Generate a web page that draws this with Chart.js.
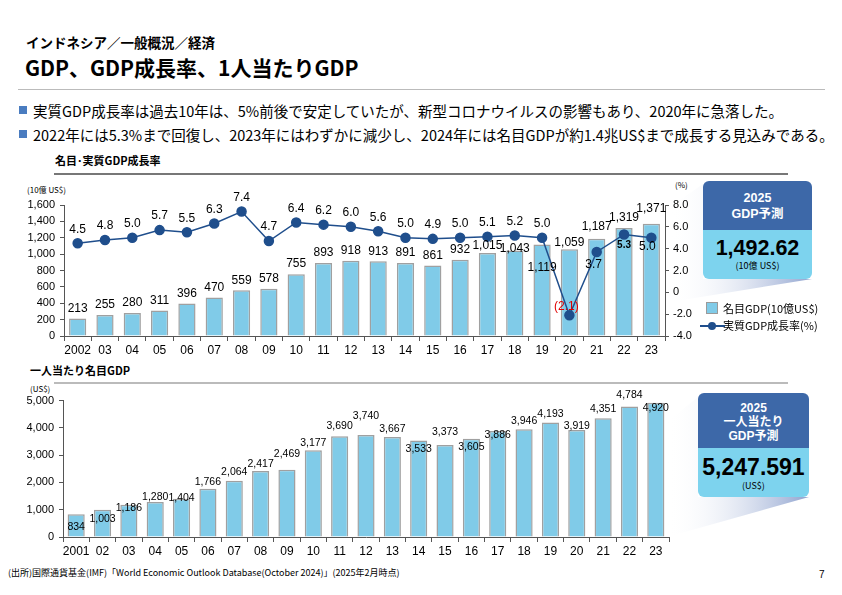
<!DOCTYPE html>
<html>
<head>
<meta charset="utf-8">
<script src="https://cdn.jsdelivr.net/npm/chart.js@4/dist/chart.umd.min.js"></script>
<style>
  body { margin: 0; background: #fff; }
  #page { position: relative; width: 842px; height: 595px; overflow: hidden; font-family: "Noto Sans CJK JP", "Liberation Sans", sans-serif; color: #000; }
  .abs { position: absolute; white-space: nowrap; }
  canvas { position: absolute; }
  .box { position: absolute; border-radius: 6px; overflow: hidden; text-align: center; }
  .box .hd { background: #3D68A8; color: #fff; font-weight: bold; font-family: "Liberation Sans", "Noto Sans CJK JP", sans-serif; }
  .box .bd { background: #7DD3EE; }
  .big { font-family: "Liberation Sans", Arial, sans-serif; font-weight: bold; }
</style>
</head>
<body>
<div id="page">
  <div class="abs" style="left:26px;top:32px;font-size:13.5px;font-weight:bold;">インドネシア／一般概況／経済</div>
  <div class="abs" style="left:25px;top:52px;font-size:21px;font-weight:bold;">GDP、GDP成長率、1人当たりGDP</div>
  <div class="abs" style="left:18px;top:89px;width:807px;height:1px;background:#bbb;"></div>

  <div class="abs" style="left:19px;top:106px;width:8px;height:8px;background:#4A7CC0;"></div>
  <div class="abs" style="left:33px;top:100px;font-size:14.5px;">実質GDP成長率は過去10年は、5%前後で安定していたが、新型コロナウイルスの影響もあり、2020年に急落した。</div>
  <div class="abs" style="left:19px;top:130px;width:8px;height:8px;background:#4A7CC0;"></div>
  <div class="abs" style="left:33px;top:124px;font-size:14.5px;">2022年には5.3%まで回復し、2023年にはわずかに減少し、2024年には名目GDPが約1.4兆US$まで成長する見込みである。</div>

  <div class="abs" style="left:55px;top:152px;font-size:11px;font-weight:bold;">名目･実質GDP成長率</div>
  <div class="abs" style="left:54px;top:173px;width:734px;height:2px;background:#777;"></div>
  <div class="abs" style="left:27px;top:184px;font-size:8px;">(10億 US$)</div>
  <div class="abs" style="left:675px;top:179px;font-size:8px;">(%)</div>

  <svg class="abs" style="left:0;top:0;" width="842" height="595">
    <defs>
      <linearGradient id="g1" x1="0" y1="0" x2="1" y2="0">
        <stop offset="0" stop-color="#ffffff" stop-opacity="0"/>
        <stop offset="1" stop-color="#8fa3cf"/>
      </linearGradient>
    </defs>
    <polygon points="670,207 703,184 703,279 812,279 670,302" fill="url(#g1)"/>
    <polygon points="667,422 698,397 698,497 809,497 667,537" fill="url(#g1)"/>
  </svg>

  <canvas id="c1" width="712" height="180" style="left:0;top:180px;"></canvas>

  <div class="box" style="left:703px;top:181px;width:109px;height:98px;">
    <div class="hd" style="height:49px;font-size:12.5px;line-height:16px;padding-top:9px;box-sizing:border-box;">2025<br>GDP予測</div>
    <div class="bd" style="height:49px;">
      <div class="big" style="font-size:21.5px;padding-top:6px;line-height:24px;">1,492.62</div>
      <div style="font-size:9px;line-height:12px;">(10億 US$)</div>
    </div>
  </div>

  <div class="abs" style="left:706px;top:302px;width:12px;height:12px;background:#80CBE8;border:1px solid #9a9a9a;box-sizing:border-box;"></div>
  <div class="abs" style="left:723px;top:300px;font-size:11px;">名目GDP(10億US$)</div>
  <div class="abs" style="left:700px;top:325px;width:25px;height:2px;background:#1F4E8C;"></div>
  <div class="abs" style="left:708px;top:322px;width:8px;height:8px;border-radius:50%;background:#1F4E8C;"></div>
  <div class="abs" style="left:723px;top:317px;font-size:11px;">実質GDP成長率(%)</div>

  <div class="abs" style="left:30px;top:362px;font-size:11px;font-weight:bold;">一人当たり名目GDP</div>
  <div class="abs" style="left:54px;top:382px;width:734px;height:2px;background:#bbb;"></div>
  <div class="abs" style="left:30px;top:383px;font-size:8px;">(US$)</div>

  <canvas id="c2" width="680" height="172" style="left:0;top:389px;"></canvas>

  <div class="box" style="left:698px;top:393px;width:111px;height:104px;">
    <div class="hd" style="height:55px;font-size:12px;line-height:14px;padding-top:8px;box-sizing:border-box;">2025<br>一人当たり<br>GDP予測</div>
    <div class="bd" style="height:49px;">
      <div class="big" style="font-size:23px;padding-top:7px;line-height:25px;">5,247.591</div>
      <div style="font-size:9px;line-height:12px;">(US$)</div>
    </div>
  </div>

  <div class="abs" style="left:8px;top:566px;font-size:9px;">(出所)国際通貨基金(IMF)「World Economic Outlook Database(October 2024)」(2025年2月時点)</div>
  <div class="abs" style="left:819px;top:569px;font-size:10px;font-family:'Liberation Sans',sans-serif;">7</div>
</div>

<script>
// 名目GDP・実質GDP成長率
const years1 = ['2002','03','04','05','06','07','08','09','10','11','12','13','14','15','16','17','18','19','20','21','22','23'];
const nominalGdp = [213, 255, 280, 311, 396, 470, 559, 578, 755, 893, 918, 913, 891, 861, 932, 1015, 1043, 1119, 1059, 1187, 1319, 1371];
const realGrowth = [4.5, 4.8, 5.0, 5.7, 5.5, 6.3, 7.4, 4.7, 6.4, 6.2, 6.0, 5.6, 5.0, 4.9, 5.0, 5.1, 5.2, 5.0, -2.1, 3.7, 5.3, 5.0];

// 一人当たり名目GDP
const years2 = ['2001','02','03','04','05','06','07','08','09','10','11','12','13','14','15','16','17','18','19','20','21','22','23'];
const perCapita = [834, 1003, 1186, 1280, 1404, 1766, 2064, 2417, 2469, 3177, 3690, 3740, 3667, 3533, 3373, 3605, 3886, 3946, 4193, 3919, 4351, 4784, 4920];

// label placement tweaks (pixels relative to the mark)
const gdpLabelDy = [-10,-10,-10,-10,-10,-10,-10,-10,-10,-10,-10,-10,-10,-10,-10,-7,-2,23,-7,-12,-10,-15];
const growthLabelDy = [-14,-14,-14,-14,-14,-14,-14,-14,-14,-14,-14,-14,-14,-14,-14,-14,-14,-14,-9,13,11,9];
const growthLabelDx = [0,0,0,0,0,0,0,0,0,0,0,0,0,0,0,0,0,0,-3,-3,0,-4];
const perCapitaDy = [13,9,3,-5,-1,-7,-9,-7,-16,-7,-10,-19,-8,8,-13,8,4,-8,-9,-4,-9,-11,5];

const BAR_FILL = '#80CBE8';
const BAR_EDGE = '#a0a0a0';
const LINE_COL = '#1F4E8C';
const NUM_FONT = '"Liberation Sans", Arial, sans-serif';

const labelPlugin = {
  id: 'valueLabels',
  afterDatasetsDraw(chart) {
    const ctx = chart.ctx;
    ctx.save();
    ctx.textAlign = 'center';
    ctx.textBaseline = 'middle';
    chart.data.datasets.forEach((ds, di) => {
      const meta = chart.getDatasetMeta(di);
      const opt = ds.valueLabel;
      if (!opt) return;
      meta.data.forEach((el, i) => {
        const v = ds.data[i];
        let txt, color = '#000', font = opt.font;
        if (v < 0) { txt = '(' + Math.abs(v).toFixed(1) + ')'; color = '#e00000'; }
        else txt = opt.fmt(v);
        if (opt.bold && opt.bold[i]) font = 'bold 10px ' + NUM_FONT;
        ctx.font = font;
        ctx.fillStyle = color;
        const dx = opt.dx ? opt.dx[i] : 0;
        ctx.fillText(txt, el.x + dx, el.y + opt.dy[i]);
      });
    });
    ctx.restore();
  }
};

const axisGrid = { display: true, drawOnChartArea: false, drawTicks: true, tickLength: 4, color: '#555' };

new Chart(document.getElementById('c1'), {
  type: 'bar',
  data: {
    labels: years1,
    datasets: [
      {
        type: 'line',
        data: realGrowth,
        yAxisID: 'y1',
        order: 0,
        borderColor: LINE_COL,
        borderWidth: 1.5,
        pointRadius: 4.5,
        pointBackgroundColor: LINE_COL,
        pointBorderColor: LINE_COL,
        valueLabel: {
          font: '12px ' + NUM_FONT,
          fmt: v => v.toFixed(1),
          dy: growthLabelDy,
          dx: growthLabelDx,
          bold: realGrowth.map((v, i) => i === 20)
        }
      },
      {
        type: 'bar',
        data: nominalGdp,
        yAxisID: 'y',
        order: 1,
        backgroundColor: BAR_FILL,
        borderColor: BAR_EDGE,
        borderWidth: 1.5,
        barPercentage: 0.63,
        categoryPercentage: 1,
        valueLabel: {
          font: '12px ' + NUM_FONT,
          fmt: v => v.toLocaleString('en-US'),
          dy: gdpLabelDy
        }
      }
    ]
  },
  options: {
    responsive: false,
    animation: false,
    layout: { padding: { top: 25, left: 0, right: 0, bottom: 0 } },
    plugins: { legend: { display: false }, tooltip: { enabled: false } },
    scales: {
      x: {
        grid: { ...axisGrid, tickLength: 5 },
        border: { color: '#555' },
        ticks: { color: '#000', font: { size: 12, family: NUM_FONT }, maxRotation: 0, autoSkip: false, padding: 2 },
        afterFit: s => { s.height = 24; }
      },
      y: {
        position: 'left',
        min: 0, max: 1600,
        grid: axisGrid,
        border: { color: '#555' },
        ticks: { stepSize: 200, autoSkip: false, color: '#000', font: { size: 11, family: NUM_FONT }, padding: 5, callback: v => v.toLocaleString('en-US') },
        afterFit: s => { s.width = 64; }
      },
      y1: {
        position: 'right',
        min: -4, max: 8,
        grid: axisGrid,
        border: { color: '#555' },
        ticks: { stepSize: 2, autoSkip: false, color: '#000', font: { size: 11, family: NUM_FONT }, padding: 4, callback: v => v === 0 ? '0' : v.toFixed(1) },
        afterFit: s => { s.width = 47; }
      }
    }
  },
  plugins: [labelPlugin]
});

new Chart(document.getElementById('c2'), {
  type: 'bar',
  data: {
    labels: years2,
    datasets: [{
      data: perCapita,
      backgroundColor: BAR_FILL,
      borderColor: BAR_EDGE,
      borderWidth: 1.5,
      barPercentage: 0.65,
      categoryPercentage: 1,
      valueLabel: {
        font: '10.5px ' + NUM_FONT,
        fmt: v => v.toLocaleString('en-US'),
        dy: perCapitaDy
      }
    }]
  },
  options: {
    responsive: false,
    animation: false,
    layout: { padding: { top: 10, left: 0, right: 11, bottom: 0 } },
    plugins: { legend: { display: false }, tooltip: { enabled: false } },
    scales: {
      x: {
        grid: { ...axisGrid, tickLength: 5 },
        border: { color: '#555' },
        ticks: { color: '#000', font: { size: 12, family: NUM_FONT }, maxRotation: 0, autoSkip: false, padding: 2 },
        afterFit: s => { s.height = 24; }
      },
      y: {
        min: 0, max: 5000,
        grid: axisGrid,
        border: { color: '#555' },
        ticks: { stepSize: 1000, autoSkip: false, color: '#000', font: { size: 11, family: NUM_FONT }, padding: 5, callback: v => v.toLocaleString('en-US') },
        afterFit: s => { s.width = 63; }
      }
    }
  },
  plugins: [labelPlugin]
});
</script>
</body>
</html>
